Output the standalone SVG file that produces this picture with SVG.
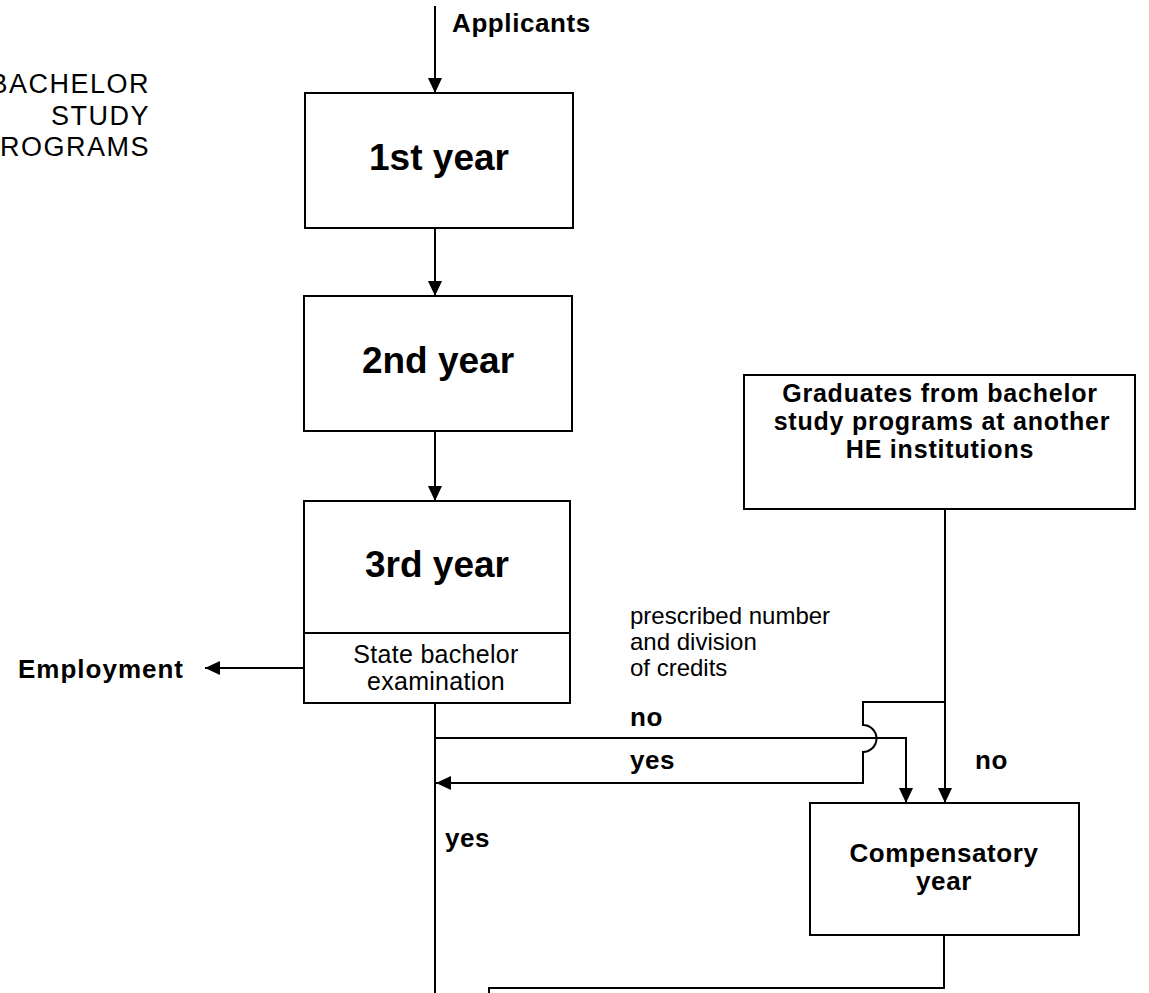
<svg xmlns="http://www.w3.org/2000/svg" width="1149" height="993" viewBox="0 0 1149 993">
<defs>
<marker id="ah" markerUnits="userSpaceOnUse" markerWidth="16" markerHeight="14" refX="15" refY="7" orient="auto">
<path d="M0,0 L15,7 L0,14 Z" fill="#000"/>
</marker>
<style>
.box{fill:#fff;stroke:#000;stroke-width:2}
.ln{fill:none;stroke:#000;stroke-width:2}
.arr{fill:none;stroke:#000;stroke-width:2;marker-end:url(#ah)}
.big{font-family:"Liberation Sans",Arial,sans-serif;font-weight:bold;font-size:37px;text-anchor:middle;fill:#000}
.lb{font-family:"Liberation Sans",Arial,sans-serif;font-weight:bold;font-size:26px;letter-spacing:0.6px;fill:#000}
.gr{font-family:"Liberation Sans",Arial,sans-serif;font-weight:bold;font-size:25px;letter-spacing:0.8px;text-anchor:middle;fill:#000}
.rg{font-family:"Liberation Sans",Arial,sans-serif;font-size:24px;fill:#000}
.ttl{font-family:"Liberation Sans",Arial,sans-serif;font-size:27px;letter-spacing:1.5px;text-anchor:end;fill:#000}
</style>
</defs>
<rect width="1149" height="993" fill="#fff"/>
<g id="title">
<text class="ttl" x="150" y="93">BACHELOR</text>
<text class="ttl" x="150" y="125">STUDY</text>
<text class="ttl" x="150" y="156">PROGRAMS</text>
</g>
<g id="connectors">
<line class="arr" x1="435" y1="6" x2="435" y2="93"/>
<line class="arr" x1="435" y1="228" x2="435" y2="296"/>
<line class="arr" x1="435" y1="431" x2="435" y2="501"/>
<line class="arr" x1="304" y1="668" x2="205" y2="668"/>
<line class="ln" x1="435" y1="703" x2="435" y2="993"/>
<path class="arr" d="M435,738 H906 V803"/>
<path class="arr" d="M945,702 H863 V725 A13.5,13.5 0 0 1 863,752 V783 H436"/>
<line class="arr" x1="945" y1="509" x2="945" y2="803"/>
<path class="ln" d="M944,935 V988 H489 V993"/>
<text class="lb" x="452" y="32">Applicants</text>
<text class="lb" x="630" y="726">no</text>
<text class="lb" x="630" y="769">yes</text>
<text class="lb" x="975" y="769">no</text>
<text class="lb" x="445" y="847">yes</text>
<text class="rg" x="630" y="624">prescribed number</text>
<text class="rg" x="630" y="650">and division</text>
<text class="rg" x="630" y="676">of credits</text>
</g>
<g id="employment">
<text class="lb" style="letter-spacing:1px" text-anchor="end" x="184" y="678">Employment</text>
</g>
<g id="year1">
<rect class="box" x="305" y="93" width="268" height="135"/>
<text class="big" x="439" y="170">1st year</text>
</g>
<g id="year2">
<rect class="box" x="304" y="296" width="268" height="135"/>
<text class="big" x="438" y="373">2nd year</text>
</g>
<g id="year3">
<rect class="box" x="304" y="501" width="266" height="202"/>
<line class="ln" x1="304" y1="633" x2="570" y2="633"/>
<text class="big" x="437" y="577">3rd year</text>
<text class="rg" style="font-size:25px;letter-spacing:0.3px" text-anchor="middle" x="436" y="663">State bachelor</text>
<text class="rg" style="font-size:25px;letter-spacing:0.3px" text-anchor="middle" x="436" y="690">examination</text>
</g>
<g id="graduates">
<rect class="box" x="744" y="375" width="391" height="134"/>
<text class="gr" x="940" y="402">Graduates from bachelor</text>
<text class="gr" x="942" y="430">study programs at another</text>
<text class="gr" x="940" y="458">HE institutions</text>
</g>
<g id="compensatory">
<rect class="box" x="810" y="803" width="269" height="132"/>
<text class="lb" text-anchor="middle" x="944" y="862">Compensatory</text>
<text class="lb" text-anchor="middle" x="944" y="890">year</text>
</g>
</svg>
